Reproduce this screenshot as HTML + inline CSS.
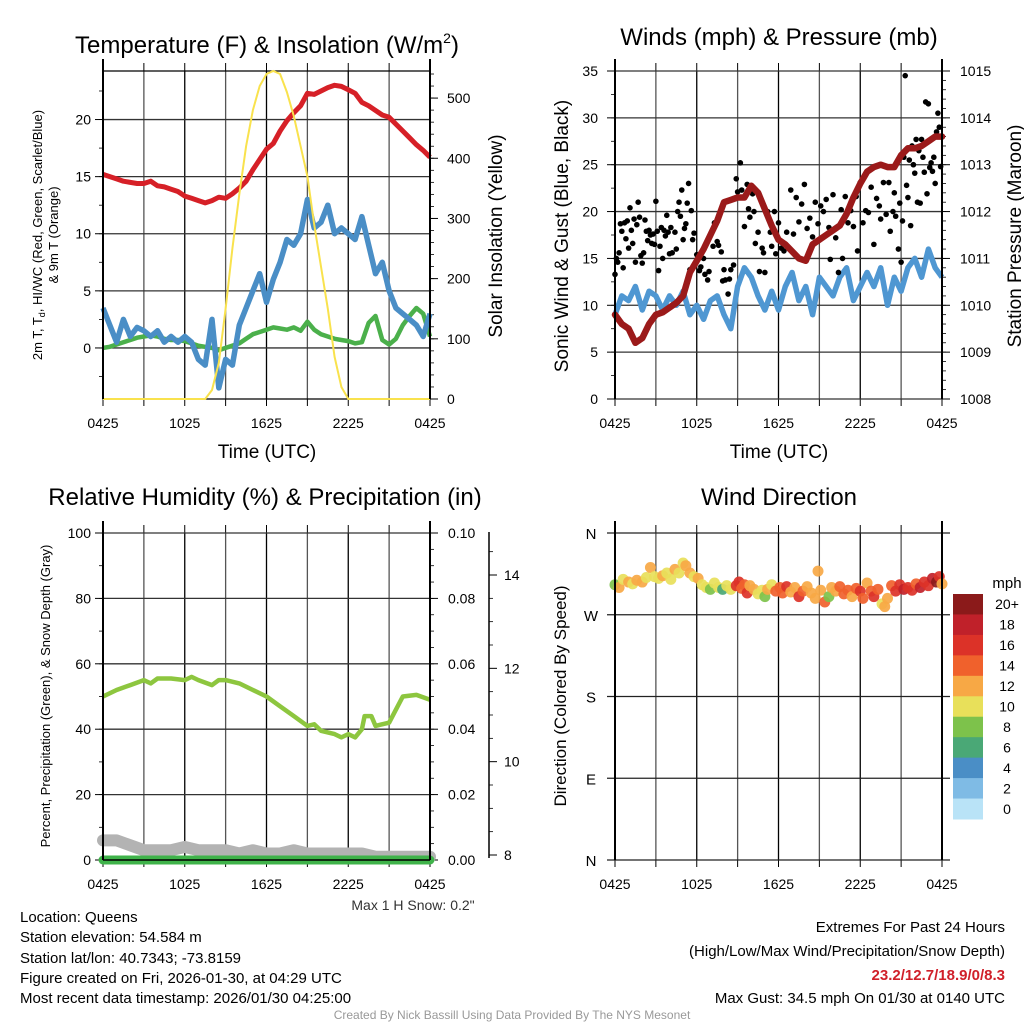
<!DOCTYPE html>
<html><head><meta charset="utf-8"><style>
html,body{margin:0;padding:0;background:#fff;}
svg{display:block;font-family:"Liberation Sans",Arial,sans-serif;}
</style></head><body>
<svg id="fig" width="1024" height="1024" viewBox="0 0 1024 1024" xmlns="http://www.w3.org/2000/svg">
<rect x="0" y="0" width="1024" height="1024" fill="#fff"/>
<g id="p1"></g>
<g id="p2"></g>
<g id="p3"></g>
<g id="p4"></g>

<text x="267" y="53" font-size="24" text-anchor="middle">Temperature (F) &amp; Insolation (W/m<tspan font-size="14" dy="-10">2</tspan><tspan dy="10">)</tspan></text>
<text x="779" y="45" font-size="24" text-anchor="middle">Winds (mph) &amp; Pressure (mb)</text>
<text x="265" y="505" font-size="24" text-anchor="middle">Relative Humidity (%) &amp; Precipitation (in)</text>
<text x="779" y="505" font-size="24" text-anchor="middle">Wind Direction</text>

<text x="267" y="458" font-size="19" text-anchor="middle">Time (UTC)</text>
<text x="779" y="458" font-size="19" text-anchor="middle">Time (UTC)</text>

<text transform="translate(42,235) rotate(-90)" font-size="13" text-anchor="middle">2m T, T<tspan font-size="9" dy="3">d</tspan><tspan dy="-3">, HI/WC (Red, Green, Scarlet/Blue)</tspan></text>
<text transform="translate(58,235) rotate(-90)" font-size="13" text-anchor="middle">&amp; 9m T (Orange)</text>
<text transform="translate(502,236) rotate(-90)" font-size="19" text-anchor="middle">Solar Insolation (Yellow)</text>
<text transform="translate(568,236) rotate(-90)" font-size="19" text-anchor="middle">Sonic Wind &amp; Gust (Blue, Black)</text>
<text transform="translate(1021,236) rotate(-90)" font-size="19" text-anchor="middle">Station Pressure (Maroon)</text>
<text transform="translate(50,696) rotate(-90)" font-size="13" text-anchor="middle">Percent, Precipitation (Green), &amp; Snow Depth (Gray)</text>
<text transform="translate(566,696) rotate(-90)" font-size="17" text-anchor="middle">Direction (Colored By Speed)</text>

<text x="413" y="910" font-size="14" fill="#333" text-anchor="middle">Max 1 H Snow: 0.2"</text>
<g font-size="15">
<text x="20" y="922">Location: Queens</text>
<text x="20" y="942">Station elevation: 54.584 m</text>
<text x="20" y="963">Station lat/lon: 40.7343; -73.8159</text>
<text x="20" y="983">Figure created on Fri, 2026-01-30, at 04:29 UTC</text>
<text x="20" y="1003">Most recent data timestamp: 2026/01/30 04:25:00</text>
</g>
<g font-size="15" text-anchor="end">
<text x="1005" y="932">Extremes For Past 24 Hours</text>
<text x="1005" y="956">(High/Low/Max Wind/Precipitation/Snow Depth)</text>
<text x="1005" y="980" fill="#d0202a" font-weight="bold">23.2/12.7/18.9/0/8.3</text>
<text x="1005" y="1003">Max Gust: 34.5 mph On 01/30 at 0140 UTC</text>
</g>
<text x="512" y="1019" font-size="12" fill="#999" text-anchor="middle">Created By Nick Bassill Using Data Provided By The NYS Mesonet</text>
</svg>
<script>
// ---------- DATA ----------
const xTickLabels = ["0425","1025","1625","2225","0425"];
const tempHours = [0,0.5,1,1.5,2,2.5,3,3.5,4,4.5,5,5.5,6,6.5,7,7.5,8,8.5,9,9.5,10,10.5,11,11.5,12,12.5,13,13.5,14,14.5,15,15.5,16,16.5,17,17.5,18,18.5,19,19.5,20,20.5,21,21.5,22,22.5,23,23.5,24];
const tempRed = [15.2,15.0,14.8,14.6,14.5,14.4,14.4,14.6,14.2,14.1,13.9,13.7,13.3,13.1,12.9,12.7,12.9,13.2,13.1,13.5,14.0,14.6,15.6,16.5,17.4,17.9,19.0,19.9,20.6,21.2,22.3,22.2,22.5,22.8,23.0,22.9,22.6,22.3,21.5,21.2,20.8,20.4,20.2,19.6,19.0,18.4,17.8,17.3,16.7];
const dewGreen = [0,0.1,0.3,0.5,0.7,0.9,1.0,1.1,1.0,0.8,0.7,0.7,0.6,0.4,0.2,0.1,0.0,-0.2,0.0,0.2,0.4,0.8,1.2,1.4,1.6,1.8,1.7,1.6,1.8,1.5,2.3,1.6,1.2,1.0,0.8,0.7,0.6,0.4,0.5,2.2,2.8,0.7,0.3,0.8,2.0,2.8,3.5,3.0,1.0];
const chillBlue = [3.5,2.0,0.5,2.5,1.0,1.8,1.5,1.0,1.5,0.5,1.0,0.5,1.0,0.5,-1.0,-1.5,2.5,-3.5,-1.0,-1.5,2.0,3.5,5.0,6.5,4.0,6.0,7.5,9.5,9.0,10.0,13.0,10.5,11.0,12.5,10.0,10.5,10.0,9.5,11.5,9.0,6.5,7.5,5.0,3.5,3.0,2.5,2.0,1.0,3.0];
const solarHours = [0,7.5,8,8.5,9,9.5,10,10.5,11,11.5,12,12.5,13,13.5,14,14.5,15,15.5,16,16.5,17,17.5,18,24];
const solarVals = [0,0,15,60,150,250,340,420,480,520,540,545,540,510,470,420,370,290,220,150,70,20,0,0];

const windHours = tempHours;
const windBlue = [9,11,10.5,12,9.5,11.5,11,9.5,11,10,11.5,9,10,8.5,10.5,11,9,7.5,12,14,13,11,9.5,11.5,9.5,12,13.5,10.5,12,9,13,12,11,13,14,10.5,12,13.5,12,14,10,13,11.5,14,15,13,16,14,13];
const pressureVals = [1009.8,1009.6,1009.5,1009.2,1009.3,1009.6,1009.8,1009.85,1009.95,1010.05,1010.2,1010.7,1010.95,1011.2,1011.5,1011.8,1012.2,1012.25,1012.3,1012.3,1012.55,1012.4,1012.05,1011.7,1011.4,1011.3,1011.15,1011.0,1010.95,1011.3,1011.4,1011.5,1011.6,1011.7,1011.95,1012.3,1012.6,1012.85,1012.95,1013.0,1012.95,1012.95,1013.2,1013.35,1013.35,1013.4,1013.5,1013.6,1013.6];
const gustHours = [0,0.1,0.2,0.3,0.4,0.5,0.6,0.7,0.8,0.9,1.0,1.1,1.2,1.3,1.4,1.5,1.6,1.7,1.8,1.9,2.0,2.1,2.2,2.3,2.4,2.5,2.6,2.7,2.8,2.9,3.0,3.1,3.2,3.3,3.4,3.5,3.6,3.7,3.8,3.9,4.0,4.1,4.2,4.4,4.5,4.6,4.7,4.8,4.9,5.0,5.1,5.2,5.3,5.4,5.5,5.6,5.7,5.8,5.9,6.0,6.2,6.3,6.5,6.6,6.8,6.9,7.0,7.2,7.3,7.5,7.6,7.8,7.9,8.0,8.1,8.3,8.4,8.5,8.7,8.9,9.0,9.2,9.3,9.5,9.7,9.8,9.9,10.1,10.2,10.3,10.5,10.6,10.8,10.9,11.0,11.2,11.4,11.5,11.7,11.8,12.0,12.2,12.4,12.6,12.8,12.9,13.1,13.3,13.5,13.7,13.9,14.1,14.3,14.5,14.7,14.9,15.1,15.3,15.5,15.7,15.8,16.0,16.2,16.4,16.6,16.7,16.9,17.1,17.3,17.5,17.7,17.8,18.0,18.2,18.4,18.6,18.8,19.0,19.2,19.4,19.5,19.7,19.9,20.1,20.2,20.4,20.5,20.6,20.8,20.9,21.0,21.1,21.2,21.3,21.4,21.5,21.6,21.7,21.8,21.9,22.0,22.1,22.2,22.3,22.4,22.5,22.6,22.7,22.8,22.9,23.0,23.1,23.2,23.3,23.4,23.5,23.6,23.7,23.8,23.9,24];
const gustVals = [13.3,15,14.6,15.6,18.7,17.9,14,18.8,17.1,19,16.1,20.4,18,16.6,19.2,14.6,18.6,21,19.4,15.3,14.5,15.6,19.1,17.9,16.9,18,17.5,16.6,17.6,16.5,21.1,17.9,13.7,16.3,18.3,15,18,17.4,19.6,17.8,15.5,18.3,15.6,17.8,16.0,20.0,21.0,19.5,22.3,17.0,18.2,18.7,20.9,23.0,13.8,20.1,17.0,17.7,14.5,15.4,13.7,14.1,15.0,13.3,12.7,13.6,17.5,16.3,18.8,16.8,16.4,15.7,12.6,13.8,12.7,11.2,12.8,13.8,14.3,23.5,22.1,25.2,22.3,18.4,22.9,20.3,19.4,21.9,20.0,16.6,17.8,13.6,16.1,15.6,13.5,20.0,17.8,16.3,20.0,15.5,18.8,16.1,15.8,17.8,16.0,22.3,17.6,21.5,18.9,20.8,22.9,18.2,19.3,17.3,21.0,18.7,20.6,20.0,21.3,18.3,14.9,21.8,17.2,13.5,20.2,15.0,21.6,18.8,20.1,18.4,21.6,15.8,23.1,18.8,20.1,19.9,22.6,16.5,21.4,20.6,19.2,23.1,19.7,23.1,17.9,20.0,22.0,19.5,16.0,20.9,14.6,19.0,25.8,34.5,22.8,21.5,25.5,18.5,27.0,25.0,24.1,27.7,21.0,26.5,20.9,27.7,25.8,24.2,31.7,21.9,31.5,24.7,25.2,24.3,25.8,23.0,28.5,30.5,29.0,24.8,28.0];

const rhHours = [0,1,2,3,3.5,4,5,6,6.5,7,8,8.5,9,10,11,12,13,14,15,15.5,16,17,17.5,18,18.5,19,19.2,19.7,20,21,22,23,24];
const rhVals = [50,52,53.5,55,54,55.5,55.5,55,56,55,53.5,55,55,54,52,50,47,44,41,41.5,39.5,38.5,37.5,38.5,37.5,40,44,44,41,42,50,50.5,49];
const snowHours = [0,1,2,3,4,5,6,7,8,9,10,11,12,13,14,15,16,17,18,19,20,21,22,23,24];
const snowVals = [6,6,4.5,3,3,3,4,3,3,3,2,3,2,2,3,2,2,2,2,2,1,1,1,1,1];
const precipHours = [0,24];
const precipVals = [0,0];

const dirHours = [0.0,0.3,0.6,1.0,1.3,1.6,2.0,2.3,2.6,2.9,3.2,3.5,3.8,4.1,4.4,4.7,5.0,5.2,5.5,5.8,6.1,6.4,6.7,7.0,7.3,7.6,7.9,8.2,8.5,8.9,9.1,9.3,9.5,9.7,9.9,10.2,10.5,10.8,11.0,11.2,11.5,11.8,12.1,12.3,12.6,12.9,13.2,13.5,13.8,14.1,14.4,14.7,14.9,15.1,15.4,15.7,15.9,16.2,16.5,16.8,17.1,17.4,17.7,18.0,18.2,18.5,18.8,19.0,19.3,19.6,19.8,20.0,20.3,20.6,20.9,21.2,21.5,21.8,22.1,22.4,22.7,23.0,23.3,23.6,23.8,24.0];
const dirDegs = [303,300,309,306,304,308,306,311,322,312,310,313,316,309,320,316,327,324,316,312,310,303,300,298,305,300,298,302,298,302,306,299,303,294,302,298,293,297,290,298,303,296,300,294,301,295,300,290,296,301,294,288,318,297,284,290,300,296,301,293,297,290,299,296,288,305,296,290,298,282,279,288,302,296,303,298,300,297,304,300,306,302,310,306,312,304];
const dirSpeeds = [9,12,11,12,10,12,12,11,12,10,11,12,11,10,12,11,11,12,12,10,12,11,10,8,11,10,7,10,10,17,16,15,14,16,13,12,10,11,8,12,10,14,15,14,16,12,13,16,14,12,13,12,12,12,14,8,12,13,14,15,14,13,15,16,14,12,14,16,15,10,12,12,14,16,17,18,16,17,15,18,16,17,18,20,17,12];
const speedBins = ["0","2","4","6","8","10","12","14","16","18","20+"];
const binColors = ["#b9e3f7","#7fbbe5","#4a8ec6","#4aa876","#7dc24b","#e8e05a","#f7a845","#f0612c","#dc3228","#c0212a","#8b1a1a"];

// ---------- HELPERS ----------
const NS="http://www.w3.org/2000/svg";
function mk(parent, tag, attrs){const e=document.createElementNS(NS,tag);for(const k in attrs)e.setAttribute(k,attrs[k]);parent.appendChild(e);return e;}
function lin(d0,d1,r0,r1){return v=>r0+(v-d0)*(r1-r0)/(d1-d0);}
function pathD(xs,ys,fx,fy){return xs.map((x,i)=>(i?"L":"M")+fx(x).toFixed(1)+","+fy(ys[i]).toFixed(1)).join(" ");}

function frame(g,L,R,T,B){
  const fx=lin(0,24,L,R);
  for(let h=0;h<=24;h+=3){
    const l=mk(g,"line",{x1:fx(h),x2:fx(h),y1:T,y2:B,stroke:(h%6===0?"#000":"#555"),"stroke-width":1.3});
    
    
    const t=mk(g,"line",{x1:fx(h),x2:fx(h),y1:T-8,y2:T,stroke:"#000","stroke-width":1});
    
    
    const tb=mk(g,"line",{x1:fx(h),x2:fx(h),y1:B,y2:B+7,stroke:"#000","stroke-width":1});
    
    
  }
  xTickLabels.forEach((s,i)=>{
    const t=mk(g,"text",{x:fx(i*6),y:B+29,"font-size":14,"text-anchor":"middle"});
    t.textContent=s;
    
    
  });
  return fx;
}
function yAxis(g,L,R,T,B,dmin,dmax,ticks,labels,side,minorStep,grid,lx){
  const fy=lin(dmin,dmax,B,T);
  if(minorStep){
    for(let v=Math.ceil(dmin/minorStep)*minorStep; v<=dmax+1e-9; v+=minorStep){
      const x0=side==="L"?L:R;
      const m=mk(g,"line",{x1:x0,x2:side==="L"?x0-4:x0+4,y1:fy(v),y2:fy(v),stroke:"#000","stroke-width":0.8});
      
      
    }
  }
  ticks.forEach((v,i)=>{
    const y=fy(v);
    if(grid){
      const gl=mk(g,"line",{x1:L,x2:R,y1:y,y2:y,stroke:"#333","stroke-width":1.3});
      
      
    }
    const x0=side==="L"?L:R;
    const tk=mk(g,"line",{x1:x0,x2:side==="L"?x0-8:x0+8,y1:y,y2:y,stroke:"#000","stroke-width":1});
    
    
    const t=mk(g,"text",{x:lx,y:y+5,"font-size":14,"text-anchor":side==="L"?"end":"start"});
    t.textContent=labels[i];
    
    
  });
  return fy;
}
function borders(g,L,R,T,B){
  const a=mk(g,"line",{x1:L,x2:L,y1:T-12,y2:B,stroke:"#000","stroke-width":2});
  
  
  const b=mk(g,"line",{x1:R,x2:R,y1:T-12,y2:B,stroke:"#000","stroke-width":2});
  
  
}

// ---------- PANEL 1 ----------
(function(){
  const g=document.getElementById("p1"),L=103,R=430,T=71,B=399;
  const fx=frame(g,L,R,T,B);
  const top=mk(g,"line",{x1:L,x2:R,y1:T,y2:T,stroke:"#000","stroke-width":1.3});
  
  
  const fy=yAxis(g,L,R,T,B,-4.47,24.25,[0,5,10,15,20],["0","5","10","15","20"],"L",2.5,true,91);
  const fs=yAxis(g,L,R,T,B,0,545,[0,100,200,300,400,500],["0","100","200","300","400","500"],"R",20,false,447);
  const bot=mk(g,"line",{x1:L,x2:R,y1:B,y2:B,stroke:"#000","stroke-width":1.3});
  
  
  const s1=mk(g,"path",{d:pathD(tempHours,dewGreen,fx,fy),fill:"none",stroke:"#4bb04b","stroke-width":4.5,"stroke-linejoin":"round"});
  
  
  const s2=mk(g,"path",{d:pathD(tempHours,chillBlue,fx,fy),fill:"none",stroke:"#4a8ec6","stroke-width":5.5,"stroke-linejoin":"round"});
  
  
  const s3=mk(g,"path",{d:pathD(tempHours,tempRed,fx,fy),fill:"none",stroke:"#d62027","stroke-width":5,"stroke-linejoin":"round"});
  
  
  const s4=mk(g,"path",{d:pathD(solarHours,solarVals,fx,fs),fill:"none",stroke:"#f9e24d","stroke-width":2});
  
  
  borders(g,L,R,T,B);
})();

// ---------- PANEL 2 ----------
(function(){
  const g=document.getElementById("p2"),L=615,R=942,T=71,B=399;
  const fx=frame(g,L,R,T,B);
  const fy=yAxis(g,L,R,T,B,0,35,[0,5,10,15,20,25,30,35],["0","5","10","15","20","25","30","35"],"L",2.5,true,598);
  const fp=yAxis(g,L,R,T,B,1008,1015,[1008,1009,1010,1011,1012,1013,1014,1015],["1008","1009","1010","1011","1012","1013","1014","1015"],"R",0.2,false,960);
  const s1=mk(g,"path",{d:pathD(windHours,windBlue,fx,fy),fill:"none",stroke:"#4f97d2","stroke-width":5.5,"stroke-linejoin":"round"});
  
  
  gustHours.forEach((h,i)=>{
    const c=mk(g,"circle",{cx:fx(h),cy:fy(gustVals[i]),r:2.8,fill:"#000"});
    
    
  });
  const s2=mk(g,"path",{d:pathD(windHours,pressureVals,fx,fp),fill:"none",stroke:"#9b1a1a","stroke-width":6.5,"stroke-linejoin":"round","stroke-linecap":"round"});
  
  
  borders(g,L,R,T,B);
})();

// ---------- PANEL 3 ----------
(function(){
  const g=document.getElementById("p3"),L=103,R=430,T=533,B=860;
  const fx=frame(g,L,R,T,B);
  const fy=yAxis(g,L,R,T,B,0,100,[0,20,40,60,80,100],["0","20","40","60","80","100"],"L",10,true,91);
  const fpr=yAxis(g,L,R,T,B,0,0.1,[0,0.02,0.04,0.06,0.08,0.1],["0.00","0.02","0.04","0.06","0.08","0.10"],"R",0.005,false,448);
  const fsd=lin(8,14,855,575);
  const ax=mk(g,"line",{x1:489,x2:489,y1:532,y2:858,stroke:"#000","stroke-width":1.5});
  
  
  [8,10,12,14].forEach(v=>{
    const t=mk(g,"line",{x1:489,x2:497,y1:fsd(v),y2:fsd(v),stroke:"#000","stroke-width":1});
    
    
    const l=mk(g,"text",{x:504,y:fsd(v)+5,"font-size":14});
    l.textContent=String(v);
    
    
  });
  for(let v=8.5;v<14.9;v+=0.5){
    if(v%2===0)continue;
    const m=mk(g,"line",{x1:489,x2:493,y1:fsd(v),y2:fsd(v),stroke:"#000","stroke-width":0.8});
    
    
  }
  const s0=mk(g,"path",{d:pathD(snowHours,snowVals,fx,fy),fill:"none",stroke:"#b3b3b3","stroke-width":12,"stroke-linejoin":"round","stroke-linecap":"round"});
  
  
  const s1=mk(g,"path",{d:pathD(precipHours,precipVals,fx,fpr),fill:"none",stroke:"#3fb34a","stroke-width":9,"stroke-linecap":"round"});
  
  
  const s2=mk(g,"path",{d:pathD(rhHours,rhVals,fx,fy),fill:"none",stroke:"#8dc63f","stroke-width":4.5,"stroke-linejoin":"round"});
  
  
  const z=mk(g,"line",{x1:L,x2:R,y1:B,y2:B,stroke:"#000","stroke-width":1.5});
  
  
  borders(g,L,R,T,B);
})();

// ---------- PANEL 4 ----------
(function(){
  const g=document.getElementById("p4"),L=615,R=942,T=533,B=860;
  const fx=frame(g,L,R,T,B);
  const fy=lin(0,360,B,T);
  const dirTicks=[0,90,180,270,360], dirLabels=["N","E","S","W","N"];
  dirTicks.forEach((v,i)=>{
    const gl=mk(g,"line",{x1:L-8,x2:R+8,y1:fy(v),y2:fy(v),stroke:"#222","stroke-width":1.3});
    
    
    const t=mk(g,"text",{x:591,y:fy(v)+6,"font-size":15,"text-anchor":"middle"});
    t.textContent=dirLabels[i];
    
    
  });
  dirHours.forEach((h,i)=>{
    const bin=Math.min(10,Math.floor(dirSpeeds[i]/2));
    const c=mk(g,"circle",{cx:fx(h),cy:fy(dirDegs[i]),r:5.5,fill:binColors[bin],"fill-opacity":0.92});
    
    
  });
  borders(g,L,R,T,B);
  const cb=mk(g,"g",{});
  
  
  const t0=mk(cb,"text",{x:1007,y:588,"font-size":15,"text-anchor":"middle"});
  t0.textContent="mph";
  
  
  const h=(819-594)/11;
  for(let i=0;i<11;i++){
    const k=10-i;
    const r=mk(cb,"rect",{x:953,y:594+i*h,width:30,height:h+0.5,fill:binColors[k]});
    
    
    const t=mk(cb,"text",{x:1007,y:594+i*h+h/2+5,"font-size":14,"text-anchor":"middle"});
    t.textContent=speedBins[k];
    
    
  }
})();
</script>
</body></html>
